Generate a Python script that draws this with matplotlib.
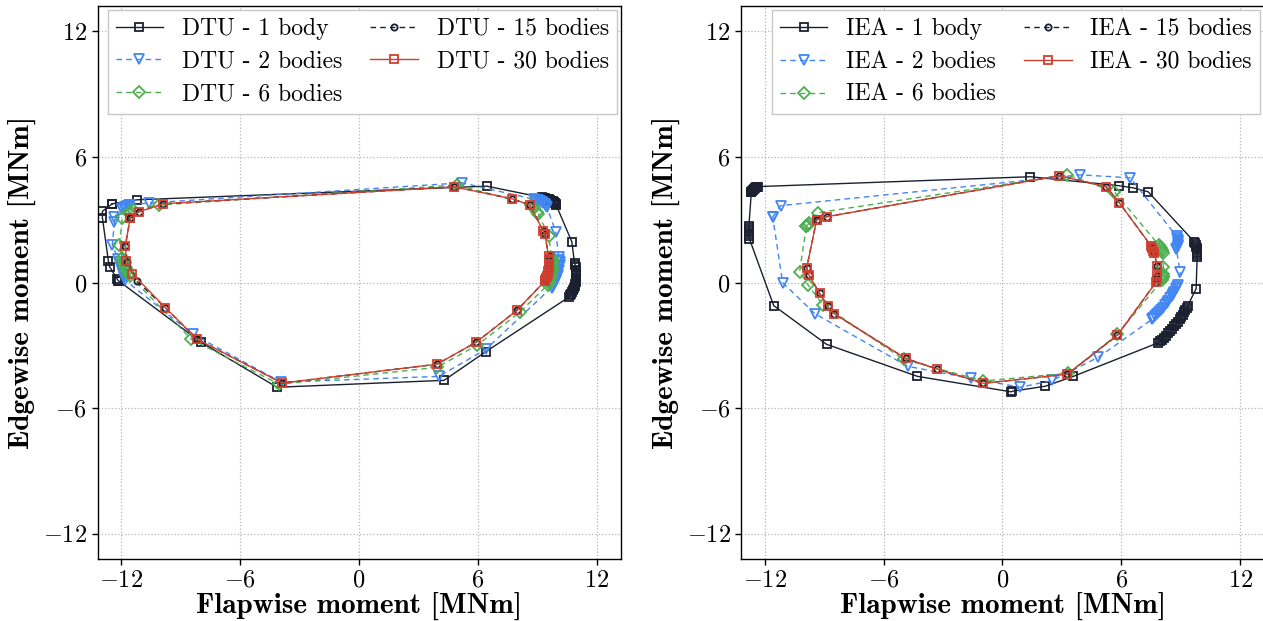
import matplotlib
matplotlib.use("Agg")
import matplotlib.pyplot as plt

plt.rcParams["font.family"] = ["cmr10"]
plt.rcParams["mathtext.fontset"] = "cm"
plt.rcParams["axes.formatter.use_mathtext"] = True
plt.rcParams["axes.unicode_minus"] = True

# ---------------- DTU 10 MW blade root load envelopes ----------------
dtu_1_x = [-12.46, -11.2, 6.45,
           9.25, 9.33, 9.41, 9.49, 9.57, 9.64, 9.71, 9.77, 9.83, 9.88, 9.92, 9.96,
           10.74,
           10.88, 10.92, 10.95, 10.96, 10.97, 10.97, 10.97, 10.96, 10.95, 10.93,
           10.91, 10.88, 10.85, 10.81, 10.77, 10.72, 10.67, 10.62,
           6.4, 4.29, -4.14, -7.97, -12.1, -12.15, -12.2, -12.6, -12.66, -12.96, -12.96, -12.46]
dtu_1_y = [3.76, 3.95, 4.6,
           4.06, 4.05, 4.03, 4.01, 3.98, 3.95, 3.91, 3.87, 3.83, 3.78, 3.73, 3.68,
           1.95,
           0.92, 0.82, 0.72, 0.62, 0.52, 0.42, 0.32, 0.22, 0.12, 0.02,
           -0.08, -0.18, -0.27, -0.36, -0.45, -0.53, -0.61, -0.68,
           -3.3, -4.67, -5.0, -2.86, 0.05, 0.08, 0.15, 0.76, 1.05, 3.1, 3.4, 3.76]

dtu_2_x = [-11.95, -11.88, -11.8, -11.72, -11.64, -11.56, -10.6, 5.2,
           8.85, 8.95, 9.05, 9.15, 9.23, 9.3, 9.37, 9.43, 9.48, 9.93,
           10.08, 10.11, 10.12, 10.12, 10.11, 10.09, 10.06, 10.03, 9.99, 9.95,
           9.9, 9.85, 9.79, 9.72,
           6.4, 4.03, -3.93, -8.37,
           -11.8, -11.87, -11.93, -11.99, -12.04, -12.08, -12.12, -12.15,
           -12.46, -12.35, -12.35, -11.95]
dtu_2_y = [3.5, 3.55, 3.6, 3.64, 3.68, 3.71, 3.8, 4.76,
           3.97, 3.95, 3.92, 3.88, 3.84, 3.79, 3.73, 3.67, 3.6, 2.43,
           1.2, 1.08, 0.96, 0.84, 0.72, 0.6, 0.48, 0.36, 0.25, 0.14,
           0.03, -0.07, -0.16, -0.24,
           -3.19, -4.48, -4.76, -2.48,
           0.1, 0.25, 0.4, 0.55, 0.7, 0.84, 0.97, 1.1,
           1.8, 2.9, 3.14, 3.5]

dtu_6_x = [-11.6, -11.5, -11.4, -10.08, 4.95, 8.7, 8.85, 8.98, 9.05, 9.58,
           9.72, 9.75, 9.76, 9.76, 9.75, 9.73, 9.71, 9.68, 9.65, 9.61, 9.57, 9.52,
           8.1, 5.95, 3.93, -4.03, -8.47,
           -11.55, -11.63, -11.7, -11.77, -11.83, -11.89, -11.94, -11.98,
           -12.1, -11.95, -11.6]
dtu_6_y = [3.3, 3.38, 3.45, 3.7, 4.66, 3.7, 3.55, 3.38, 3.28, 2.2,
           1.15, 1.03, 0.91, 0.79, 0.67, 0.55, 0.43, 0.31, 0.2, 0.09, -0.02, -0.12,
           -1.43, -3.0, -4.05, -4.86, -2.71,
           0.3, 0.42, 0.55, 0.68, 0.8, 0.92, 1.04, 1.15,
           1.8, 3.1, 3.3]

dtu_15_x = [-11.55, -11.1, -9.88, 4.8, 7.72, 8.62, 9.3, 9.38,
            9.57, 9.59, 9.6, 9.6, 9.59, 9.57, 9.55, 9.52, 9.49, 9.45, 9.41, 9.37,
            7.97, 5.9, 3.93, -3.88, -8.17, -9.78, -11.2, -11.7, -11.8, -11.55]
dtu_15_y = [3.1, 3.38, 3.76, 4.57, 4.0, 3.71, 2.45, 2.33,
            1.25, 1.13, 1.01, 0.89, 0.77, 0.65, 0.54, 0.43, 0.33, 0.23, 0.14, 0.06,
            -1.33, -2.86, -3.9, -4.8, -2.71, -1.2, 0.05, 1.0, 1.76, 3.1]

dtu_30_x = [-11.55, -11.1, -9.88, 4.8, 7.72, 8.62, 9.3, 9.38,
            9.57, 9.59, 9.6, 9.6, 9.59, 9.57, 9.55, 9.52, 9.49, 9.45, 9.41, 9.37,
            7.97, 5.9, 3.93, -3.88, -8.17, -9.78, -11.45, -11.75, -11.8, -11.55]
dtu_30_y = [3.1, 3.38, 3.76, 4.57, 4.0, 3.71, 2.45, 2.33,
            1.25, 1.13, 1.01, 0.89, 0.77, 0.65, 0.54, 0.43, 0.33, 0.23, 0.14, 0.06,
            -1.33, -2.86, -3.9, -4.8, -2.71, -1.2, 0.43, 1.05, 1.76, 3.1]

# ---------------- IEA 15 MW blade root load envelopes ----------------
iea_1_x = [-12.68, -12.64, -12.6, -12.55, -12.5, -12.44, -12.38, -12.32,
           1.41, 5.9, 6.6, 7.36,
           9.68, 9.72, 9.76, 9.79, 9.81, 9.83, 9.84, 9.84, 9.84, 9.83,
           9.78,
           9.36, 9.3, 9.24, 9.17, 9.1, 9.02, 8.94, 8.86, 8.77, 8.68, 8.58, 8.48,
           8.38, 8.27, 8.16, 8.05, 7.95, 7.86,
           3.58, 2.17, 0.5, 0.45, -4.29, -8.88, -11.55,
           -12.78, -12.8, -12.81, -12.82, -12.82, -12.81, -12.8, -12.68]
iea_1_y = [4.3, 4.37, 4.43, 4.48, 4.52, 4.55, 4.57, 4.58,
           5.05, 4.62, 4.52, 4.33,
           1.95, 1.87, 1.79, 1.71, 1.63, 1.55, 1.47, 1.39, 1.31, 1.23,
           -0.29,
           -1.1, -1.21, -1.32, -1.43, -1.54, -1.65, -1.76, -1.87, -1.98, -2.09, -2.2, -2.31,
           -2.42, -2.53, -2.63, -2.73, -2.81, -2.88,
           -4.48, -4.95, -5.19, -5.22, -4.48, -2.95, -1.1,
           2.1, 2.2, 2.3, 2.4, 2.5, 2.6, 2.7, 4.3]

iea_2_x = [-11.6, -11.2, 3.93, 6.45,
           8.8, 8.83, 8.86, 8.87, 8.87, 8.86, 8.84, 8.81, 8.78,
           8.98,
           8.85, 8.8, 8.74, 8.68, 8.61, 8.54, 8.46, 8.38, 8.3, 8.21, 8.12, 8.02,
           7.92, 7.82, 7.72, 7.62, 7.55,
           4.84, 2.52, 0.91, -1.61, -4.79, -9.48, -11.1, -11.6]
iea_2_y = [3.14, 3.67, 5.14, 5.0,
           2.2, 2.12, 2.04, 1.96, 1.88, 1.8, 1.72, 1.65, 1.58,
           0.48,
           -0.1, -0.21, -0.32, -0.43, -0.54, -0.65, -0.76, -0.87, -0.98, -1.09, -1.2, -1.31,
           -1.42, -1.52, -1.61, -1.7, -1.76,
           -3.57, -4.67, -5.0, -4.57, -4.0, -1.48, 0.0, 3.14]

iea_6_x = [-9.9, -9.83, -9.75, -9.33, 3.28, 5.65,
           7.9, 7.95, 8.0, 8.04, 8.07, 8.1, 8.12, 8.12, 8.11, 8.1, 8.08, 8.07,
           5.8, 3.33, -0.96, -4.99, -9.08, -9.83, -10.24, -9.9]
iea_6_y = [2.7, 2.76, 2.82, 3.33, 5.14, 4.33,
           1.78, 1.71, 1.64, 1.57, 1.5, 1.43, 0.76, 0.4, 0.33, 0.26, 0.19, 0.12,
           -2.48, -4.33, -4.7, -3.67, -1.05, -0.1, 0.52, 2.7]

iea_15_x = [-9.38, -8.88, 2.87, 5.24, 5.9,
            7.5, 7.55, 7.6, 7.65, 7.82,
            7.8, 7.78, 7.76,
            5.8, 3.28, -0.96, -3.28, -4.89, -8.52, -8.83, -9.23, -9.78, -9.88, -9.38]
iea_15_y = [3.0, 3.14, 5.1, 4.57, 3.81,
            1.75, 1.63, 1.52, 1.42, 0.81,
            0.32, 0.16, 0.02,
            -2.52, -4.38, -4.81, -4.14, -3.62, -1.48, -1.14, -0.52, 0.38, 0.71, 3.0]

iea_30_x = [-9.38, -8.88, 2.87, 5.24, 5.9,
            7.5, 7.55, 7.6, 7.65, 7.82,
            7.8, 7.78, 7.76,
            5.8, 3.28, -0.96, -3.28, -4.89, -8.52, -8.83, -9.23, -9.78, -9.88, -9.38]
iea_30_y = [3.0, 3.14, 5.1, 4.57, 3.81,
            1.75, 1.63, 1.52, 1.42, 0.81,
            0.32, 0.16, 0.02,
            -2.52, -4.38, -4.81, -4.14, -3.62, -1.48, -1.14, -0.52, 0.38, 0.71, 3.0]

body_counts = ["1 body", "2 bodies", "6 bodies", "15 bodies", "30 bodies"]
ticks = [-12, -6, 0, 6, 12]

BLACK = "#1b2030"
BLUE = "#4286f4"
GREEN = "#4caf50"
RED = "#d0402f"

styles = [
    dict(color=BLACK, ls="-", marker="s", ms=6.0),
    dict(color=BLUE, ls=(0, (4, 3)), marker="v", ms=7.5),
    dict(color=GREEN, ls=(0, (4, 3)), marker="D", ms=6.0),
    dict(color=BLACK, ls=(0, (4, 3)), marker="o", ms=4.5),
    dict(color=RED, ls="-", marker="s", ms=6.0),
]

fig = plt.figure(figsize=(12.63, 6.21), dpi=100)
ax_l = fig.add_axes([0.0773, 0.0998, 0.4140, 0.8905])
ax_r = fig.add_axes([0.5867, 0.0998, 0.4140, 0.8905])

panels = [
    (ax_l, "DTU", [(dtu_1_x, dtu_1_y), (dtu_2_x, dtu_2_y), (dtu_6_x, dtu_6_y),
                   (dtu_15_x, dtu_15_y), (dtu_30_x, dtu_30_y)]),
    (ax_r, "IEA", [(iea_1_x, iea_1_y), (iea_2_x, iea_2_y), (iea_6_x, iea_6_y),
                   (iea_15_x, iea_15_y), (iea_30_x, iea_30_y)]),
]

for ax, model, series in panels:
    for (xs, ys), name, st in zip(series, body_counts, styles):
        ax.plot(xs, ys, color=st["color"], ls=st["ls"], lw=1.0,
                marker=st["marker"], ms=st["ms"], mfc="none",
                mec=st["color"], mew=1.3, label=f"{model} - {name}")
    ax.set_xlim(-13.2, 13.2)
    ax.set_ylim(-13.2, 13.2)
    ax.set_xticks(ticks)
    ax.set_yticks(ticks)
    ax.grid(True, ls=":", color="#b5b5b5", lw=0.9)
    ax.set_axisbelow(True)
    ax.tick_params(labelsize=17.5, length=4, width=1)
    for sp in ax.spines.values():
        sp.set_linewidth(1.0)
        sp.set_color("black")
    ax.set_xlabel("Flapwise moment [MNm]", family="cmb10", fontsize=21, labelpad=0.5)
    ax.set_ylabel("Edgewise moment [MNm]", family="cmb10", fontsize=21, labelpad=5)
    leg = ax.legend(loc="upper right", bbox_to_anchor=(1.0, 1.0), ncol=2,
                    fontsize=17, frameon=True, fancybox=False,
                    edgecolor="#c8c8c8", framealpha=1.0, borderaxespad=0.15,
                    handlelength=2.0, handletextpad=0.8, columnspacing=1.2,
                    labelspacing=0.45, borderpad=0.35)
    leg.get_frame().set_linewidth(1.0)

fig.savefig("out.png", dpi=100)
